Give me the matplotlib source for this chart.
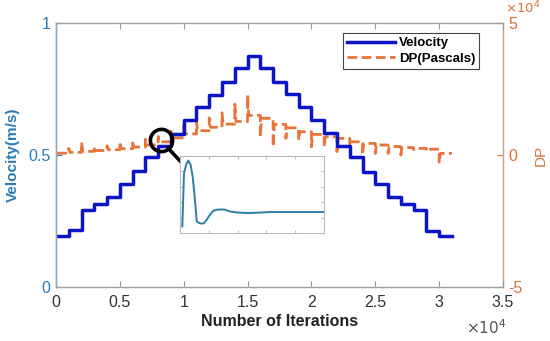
import numpy as np
import matplotlib
matplotlib.use("Agg")
import matplotlib.pyplot as plt
from matplotlib.ticker import FuncFormatter

plt.rcParams['font.family'] = ['Liberation Sans', 'DejaVu Sans']

# ---------------- data ----------------
step_len = 1000  # iterations per velocity step
velocity = [0.194, 0.215, 0.29, 0.313, 0.34, 0.39, 0.44, 0.494, 0.534, 0.58,
            0.633, 0.68, 0.729, 0.778, 0.828, 0.876,
            0.828, 0.778, 0.731, 0.683, 0.633, 0.583, 0.534, 0.494, 0.437,
            0.39, 0.342, 0.314, 0.29, 0.213, 0.194]
dp_base = [700, 1000, 1400, 1700, 2000, 2400, 3000, 3800, 5000, 6500,
           8000, 9200, 10500, 11700, 12700, 15000,
           13900, 11600, 10300, 8800, 7800, 6900, 6300, 5000, 4400,
           3800, 3200, 2800, 2500, 2200, 600]
dp_spike = [700, 2500, 4800, 3200, 3500, 5000, 5500, 6000, 7000, 9000,
            12000, 12600, 14000, 16000, 19300, 22700,
            6900, 3100, 6300, 5700, 3100, 3100, 1300, 3000, 0,
            600, 600, 0, 2000, 1500, -3100]
# inset (normalised) transient response
inset_x = [0.016, 0.028, 0.042, 0.058, 0.074, 0.088, 0.104, 0.116, 0.134, 0.150,
           0.167, 0.185, 0.208, 0.231, 0.255, 0.289, 0.313, 0.347, 0.394, 0.463,
           0.532, 0.625, 0.741, 0.856, 1.0]
inset_y = [0.086, 0.776, 0.884, 0.940, 0.884, 0.733, 0.431, 0.151, 0.129, 0.121,
           0.129, 0.172, 0.237, 0.289, 0.302, 0.306, 0.302, 0.280, 0.267, 0.259,
           0.263, 0.272, 0.272, 0.272, 0.272]
x_ticks = [0, 0.5, 1, 1.5, 2, 2.5, 3, 3.5]
vel_ticks = [0, 0.5, 1]
dp_ticks = [-5, 0, 5]

# ---------------- build series ----------------
n = len(velocity)
edges = np.arange(n + 1) * step_len
vel_y = velocity + [velocity[-1]]

dp_x, dp_y = [], []
for k in range(n):
    x0 = k * step_len
    if k > 0:
        dp_x += [x0, x0]
        dp_y += [dp_base[k - 1], dp_spike[k]]
    dp_x += [x0 + 90, (k + 1) * step_len]
    dp_y += [dp_base[k], dp_base[k]]

# ---------------- figure ----------------
W, H = 550, 341
fig = plt.figure(figsize=(W / 100, H / 100), dpi=100)
L, R, T, B = 56, 503, 23, 287
ax = fig.add_axes([L / W, 1 - B / H, (R - L) / W, (B - T) / H])
ax2 = ax.twinx()

blue_axis = '#2B7BB5'
orange_axis = '#D9713A'

ln1, = ax.step(edges, vel_y, where='post', color='#0A14C8', lw=2.5, label='Velocity')
ln2, = ax2.plot(dp_x, dp_y, color='#E8743A', lw=2.0, ls=(0, (3.5, 1.6)), label='DP(Pascals)')

ax.set_xlim(0, 35000)
ax.set_ylim(0, 1)
ax2.set_ylim(-50000, 50000)

ax.set_xticks([t * 1e4 for t in x_ticks])
ax.xaxis.set_major_formatter(FuncFormatter(lambda v, p: f"{v/1e4:g}"))
ax.set_yticks(vel_ticks)
ax.yaxis.set_major_formatter(FuncFormatter(lambda v, p: f"{v:g}"))
ax2.set_yticks([t * 1e4 for t in dp_ticks])
ax2.yaxis.set_major_formatter(FuncFormatter(lambda v, p: f"{v/1e4:g}"))

ax.tick_params(axis='x', direction='in', top=True, length=4, labelsize=11.5,
               colors='#999999', labelcolor='#333333', pad=6)
ax.tick_params(axis='y', direction='in', length=4, labelsize=11.5,
               colors=blue_axis, labelcolor=blue_axis, pad=4)
ax2.tick_params(axis='y', direction='in', length=4, labelsize=11.5,
                colors=orange_axis, labelcolor=orange_axis, pad=4)

for s in ['top', 'bottom']:
    ax.spines[s].set_color('#A0A0A0')
    ax2.spines[s].set_visible(False)
ax.spines['left'].set_color('#8FA9BD')
ax2.spines['left'].set_color('#8FA9BD')
ax2.spines['right'].set_color('#C9A585')
ax.spines['right'].set_visible(False)
for s in ax.spines.values():
    s.set_linewidth(1.0)
for s in ax2.spines.values():
    s.set_linewidth(1.0)

ax.set_xlabel('Number of Iterations', fontsize=11.5, fontweight='bold', color='#222222', labelpad=3)
ax.set_ylabel('Velocity(m/s)', fontsize=11, fontweight='bold', color=blue_axis, labelpad=6)
ax2.set_ylabel('DP', fontsize=11, color=orange_axis, labelpad=8)

fig.text(466 / W, 1 - 328 / H, r'$\times10^{4}$', fontsize=11, color='#555555', va='center', ha='left')
fig.text(505 / W, 1 - 8 / H, r'$\times10^{4}$', fontsize=9.5, color=orange_axis, va='center', ha='left')

leg = ax.legend(handles=[ln1, ln2], loc='upper right',
                bbox_to_anchor=((479 - L) / (R - L), (B - 33) / (B - T)),
                borderaxespad=0, fancybox=False, framealpha=1, edgecolor='#444444',
                prop={'weight': 'bold', 'size': 9.5}, handlelength=3.6,
                handletextpad=0.3, borderpad=0.3, labelspacing=0.25)
leg.get_frame().set_linewidth(0.8)
ax.set_zorder(ax2.get_zorder() + 1)
ax.patch.set_visible(False)

# magnifier
cx, cy = (161 - L) / (R - L), (B - 140) / (B - T)
ax.plot([cx], [cy], marker='o', ms=16, mfc='none', mec='black', mew=2.6,
        transform=ax.transAxes, clip_on=False, zorder=10)
ax.plot([(168 - L) / (R - L), (181 - L) / (R - L)], [(B - 148) / (B - T), (B - 162) / (B - T)],
        color='black', lw=2.6, transform=ax.transAxes, zorder=10, solid_capstyle='round')

# inset
il, ir, it, ib = 180, 324, 156, 233
axi = fig.add_axes([il / W, 1 - ib / H, (ir - il) / W, (ib - it) / H])
axi.plot(inset_x, inset_y, color='#2E7FA8', lw=1.4)
axi.set_xlim(0, 1)
axi.set_ylim(0, 1)
axi.set_xticks([0.2, 0.4, 0.6, 0.8])
axi.set_yticks([0.2, 0.4, 0.6, 0.8])
axi.tick_params(direction='in', length=2, top=True, right=True, labelleft=False,
                labelbottom=False, colors='#BBBBBB')
for s in axi.spines.values():
    s.set_color('#BBBBBB')
    s.set_linewidth(0.8)
axi.set_zorder(20)

fig.savefig('out.png', dpi=100)
